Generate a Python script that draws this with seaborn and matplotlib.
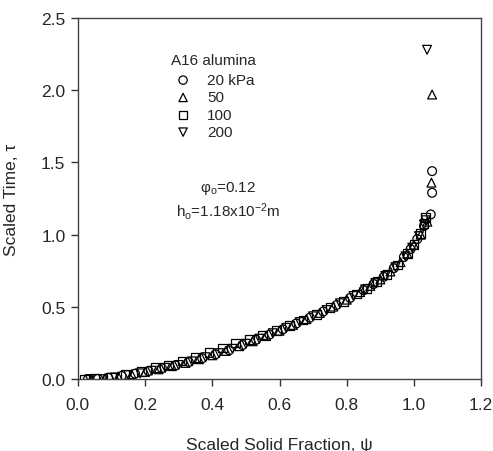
import matplotlib
matplotlib.use("Agg")
import matplotlib.pyplot as plt
import seaborn as sns
import pandas as pd

# ---- data ----
psi_20 = [0.03, 0.06, 0.09, 0.13, 0.17, 0.21, 0.25, 0.29, 0.33, 0.37, 0.41, 0.45, 0.49, 0.53,
          0.57, 0.61, 0.65, 0.69, 0.73, 0.77, 0.81, 0.85, 0.88, 0.91, 0.94, 0.97, 0.99, 1.01,
          1.03, 1.05, 1.054, 1.054]
tau_20 = [0.0, 0.002, 0.01, 0.022, 0.038, 0.056, 0.075, 0.095, 0.118, 0.144, 0.172, 0.20, 0.236,
          0.272, 0.308, 0.345, 0.385, 0.425, 0.468, 0.513, 0.562, 0.615, 0.658, 0.708, 0.768,
          0.845, 0.90, 0.97, 1.06, 1.14, 1.29, 1.44]

psi_50 = [0.04, 0.08, 0.12, 0.16, 0.20, 0.24, 0.28, 0.32, 0.36, 0.40, 0.44, 0.48, 0.52, 0.56,
          0.60, 0.64, 0.68, 0.72, 0.76, 0.80, 0.84, 0.87, 0.90, 0.93, 0.96, 0.98, 1.00, 1.02,
          1.04, 1.052, 1.054]
tau_50 = [0.0, 0.005, 0.018, 0.034, 0.05, 0.068, 0.09, 0.112, 0.138, 0.165, 0.195, 0.228, 0.262,
          0.298, 0.335, 0.375, 0.415, 0.458, 0.502, 0.55, 0.602, 0.645, 0.69, 0.745, 0.81, 0.87,
          0.93, 1.0, 1.09, 1.36, 1.97]

psi_100 = [0.02, 0.05, 0.10, 0.14, 0.19, 0.23, 0.27, 0.31, 0.35, 0.39, 0.43, 0.47, 0.51, 0.55,
           0.59, 0.63, 0.67, 0.71, 0.75, 0.79, 0.83, 0.86, 0.89, 0.92, 0.95, 0.98, 1.00, 1.02,
           1.03, 1.035]
tau_100 = [0.0, 0.002, 0.015, 0.03, 0.055, 0.078, 0.098, 0.125, 0.15, 0.185, 0.215, 0.25, 0.275,
           0.305, 0.335, 0.37, 0.41, 0.45, 0.495, 0.54, 0.59, 0.63, 0.675, 0.725, 0.79, 0.87,
           0.93, 1.01, 1.08, 1.12]

psi_200 = [0.035, 0.075, 0.11, 0.15, 0.185, 0.22, 0.26, 0.30, 0.34, 0.38, 0.42, 0.46, 0.50,
           0.54, 0.58, 0.62, 0.66, 0.70, 0.74, 0.78, 0.82, 0.855, 0.885, 0.915, 0.945, 0.975,
           0.995, 1.015, 1.03, 1.035, 1.039]
tau_200 = [0.0, 0.0, 0.012, 0.028, 0.04, 0.058, 0.078, 0.098, 0.123, 0.152, 0.18, 0.21, 0.245,
           0.28, 0.318, 0.355, 0.395, 0.435, 0.478, 0.525, 0.575, 0.622, 0.665, 0.715, 0.775,
           0.85, 0.91, 0.99, 1.07, 1.10, 2.28]

series_labels = ["20 kPa", "50", "100", "200"]
x_ticks = [0.0, 0.2, 0.4, 0.6, 0.8, 1.0, 1.2]
y_ticks = [0.0, 0.5, 1.0, 1.5, 2.0, 2.5]

# ---- style ----
sns.set_style("white")
plt.rcParams["font.family"] = ["Liberation Sans", "DejaVu Sans"]
plt.rcParams["mathtext.fontset"] = "custom"
plt.rcParams["mathtext.rm"] = "Liberation Sans"
plt.rcParams["mathtext.it"] = "Liberation Sans:italic"

frames = []
for lab, xs, ys in zip(series_labels, [psi_20, psi_50, psi_100, psi_200],
                       [tau_20, tau_50, tau_100, tau_200]):
    frames.append(pd.DataFrame({"psi": xs, "tau": ys, "series": lab}))
df = pd.concat(frames, ignore_index=True)

markers = {"20 kPa": "o", "50": "^", "100": "s", "200": "v"}

fig = plt.figure(figsize=(4.93, 4.52), dpi=100)
ax = fig.add_axes([0.158, 0.159, 0.818, 0.799])

for lab in series_labels:
    sub = df[df["series"] == lab]
    sns.scatterplot(data=sub, x="psi", y="tau", marker=markers[lab], s=40,
                    facecolors="none", edgecolors="black", linewidths=0.9,
                    ax=ax, legend=False)

ax.set_xlim(0.0, 1.2)
ax.set_ylim(0.0, 2.5)
ax.set_xticks(x_ticks)
ax.set_yticks(y_ticks)
ax.set_xticklabels([f"{v:.1f}" for v in x_ticks], fontsize=12.5)
ax.set_yticklabels([f"{v:.1f}" for v in y_ticks], fontsize=12.5)
ax.tick_params(axis="x", direction="out", length=5, width=1, color="#333333",
               bottom=True, top=False, pad=8)
ax.tick_params(axis="y", direction="out", length=5, width=1, color="#333333",
               left=True, right=False, pad=4)
for sp in ax.spines.values():
    sp.set_visible(True)
    sp.set_color("#444444")
    sp.set_linewidth(1.0)

ax.set_xlabel("Scaled Solid Fraction, ψ", fontsize=12.5, labelpad=18)
ax.set_ylabel("Scaled Time, τ", fontsize=12.5, labelpad=16)

# legend-like annotation block
ax.text(0.277, 2.21, "A16 alumina", fontsize=11, ha="left", va="center")
leg_y = [2.07, 1.95, 1.83, 1.71]
for lab, yy in zip(series_labels, leg_y):
    ax.scatter([0.313], [yy], marker=markers[lab], s=36, facecolors="none",
               edgecolors="black", linewidths=0.9)
    ax.text(0.385, yy, lab, fontsize=11, ha="left", va="center")

ax.text(0.448, 1.33, r"$\mathregular{φ_o}$=0.12", fontsize=11, ha="center", va="center")
ax.text(0.448, 1.17, r"$\mathregular{h_o}$=1.18x10$\mathregular{^{-2}}$m", fontsize=11,
        ha="center", va="center")

fig.savefig("out.png", dpi=100)
